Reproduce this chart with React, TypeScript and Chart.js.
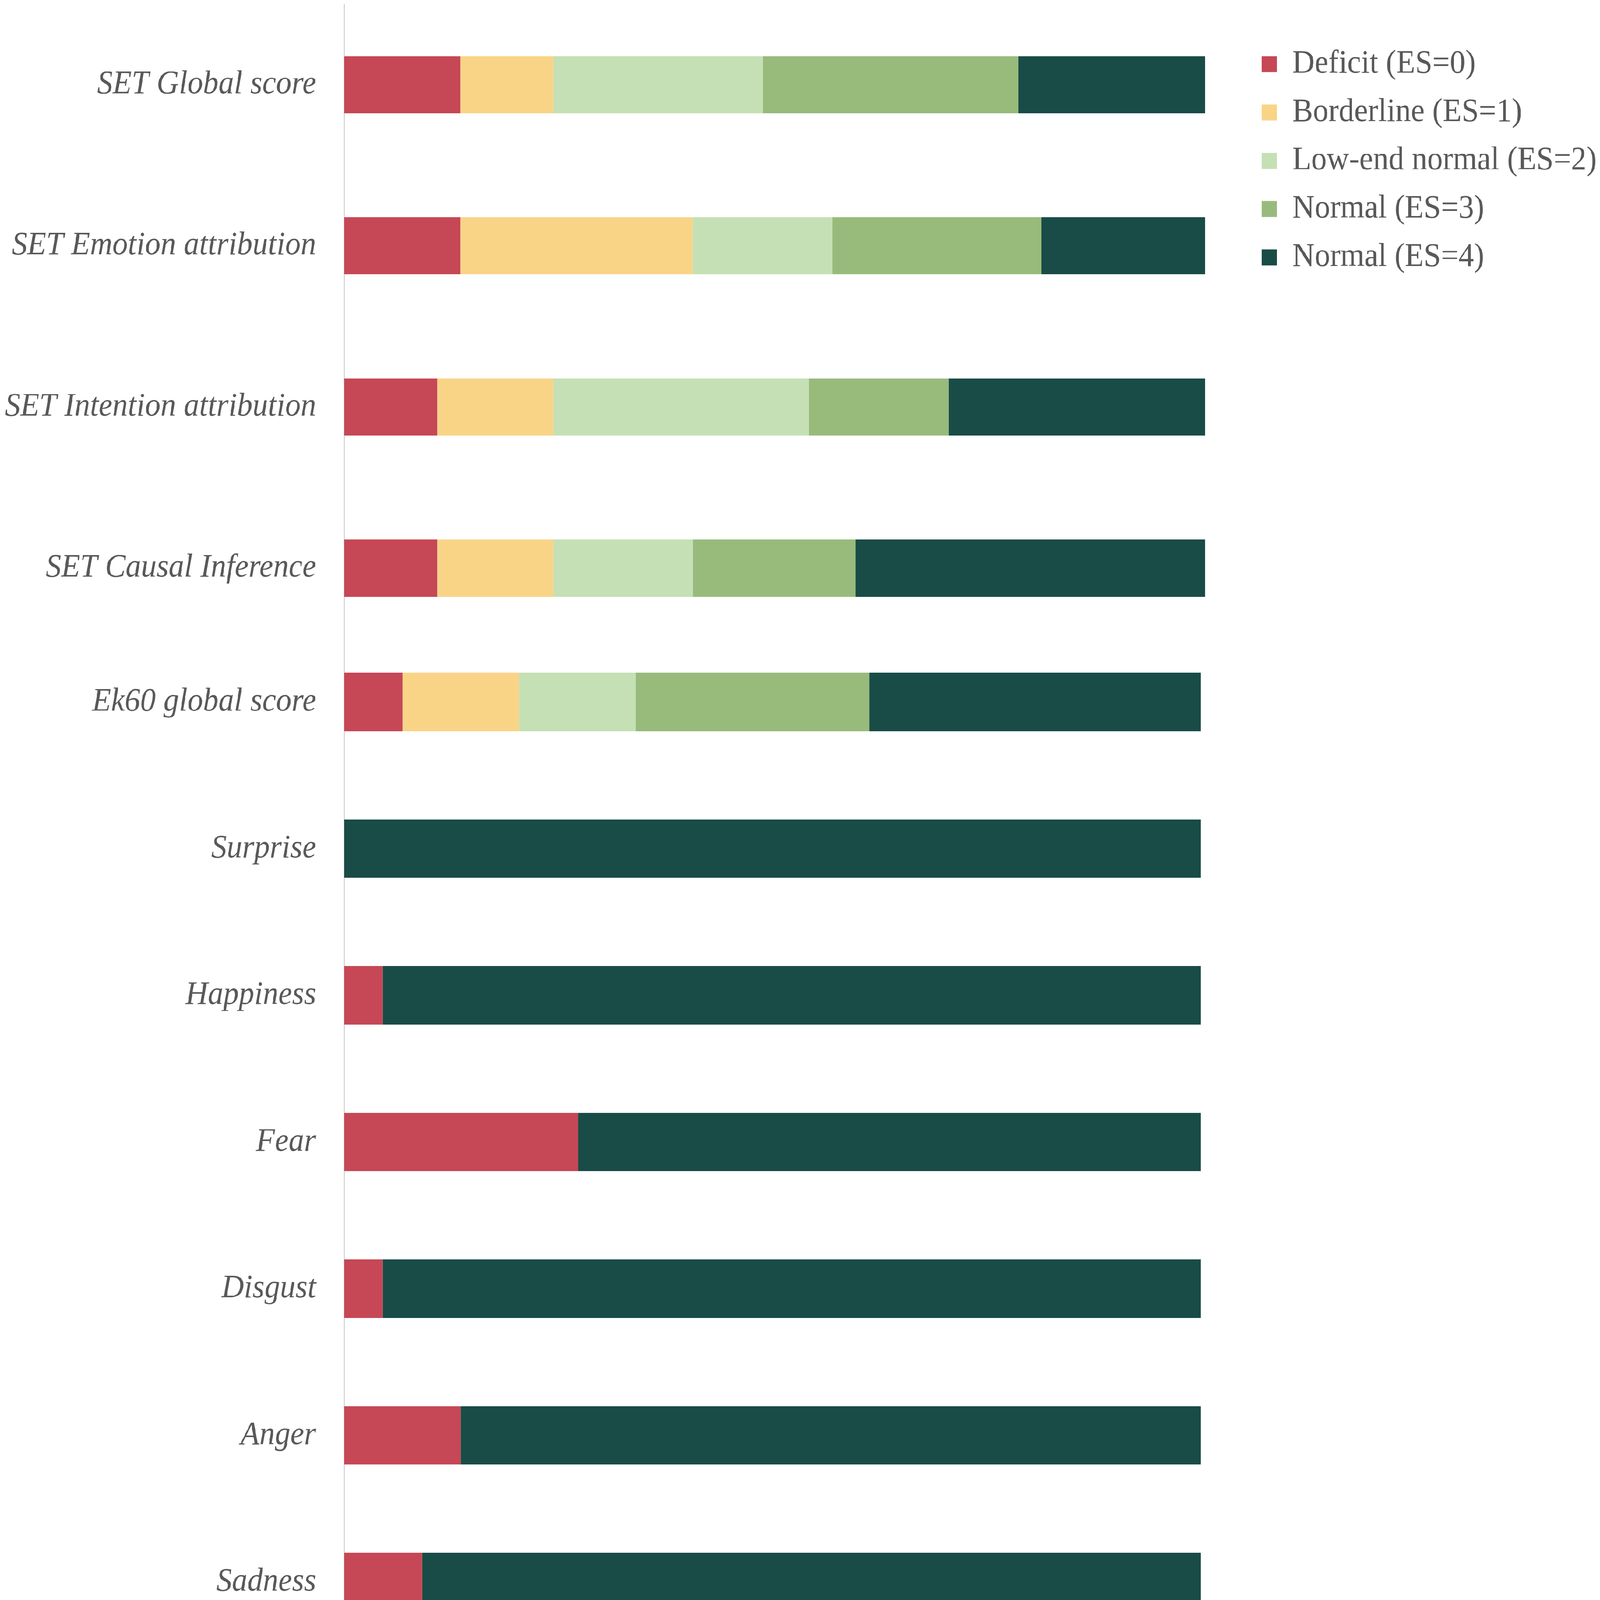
import React, { useEffect, useRef } from "react";
import { Chart, registerables } from "chart.js";

Chart.register(...registerables);

const setLabels = [
  "SET Global score",
  "SET Emotion attribution",
  "SET Intention attribution",
  "SET Causal Inference",
];
const ekLabels = ["Ek60 global score", "Surprise", "Happiness", "Fear", "Disgust", "Anger", "Sadness"];

const seriesNames = [
  "Deficit (ES=0)",
  "Borderline (ES=1)",
  "Low-end normal (ES=2)",
  "Normal (ES=3)",
  "Normal (ES=4)",
];
const seriesColors = ["#C64756", "#F9D487", "#C5E0B4", "#98BB7C", "#194C47"];

// share of patients (%) in each class
const setDeficit = [13.5, 13.5, 10.8, 10.8];
const setBorderline = [10.8, 27.0, 13.5, 13.5];
const setLowNormal = [24.3, 16.2, 29.7, 16.2];
const setNormal3 = [29.7, 24.3, 16.2, 18.9];
const setNormal4 = [21.7, 19.0, 29.8, 40.6];

const ekDeficit = [6.8, 0, 4.5, 27.3, 4.5, 13.6, 9.1];
const ekBorderline = [13.6, 0, 0, 0, 0, 0, 0];
const ekLowNormal = [13.6, 0, 0, 0, 0, 0, 0];
const ekNormal3 = [27.3, 0, 0, 0, 0, 0, 0];
const ekNormal4 = [38.7, 100, 95.5, 72.7, 95.5, 86.4, 90.9];

const TEXT = "#595959";
const FONT = "'Liberation Serif', 'Times New Roman', serif";
const PAGE_W = 4550;
const PAGE_H = 4309;

// legend sits to the right; keep its width fixed and move it where the figure has it
const legendSpot = {
  id: "legendSpot",
  beforeLayout(chart: any, _args: any, opts: any) {
    const lg = chart.legend;
    if (!lg || lg.__fixed || !opts || !opts.width) return;
    const fit = lg.fit;
    lg.fit = function () {
      fit.call(this);
      this.width = opts.width;
    };
    lg.__fixed = true;
  },
  afterLayout(chart: any, _args: any, opts: any) {
    const lg = chart.legend;
    if (!lg || !opts || !opts.width) return;
    lg.left = opts.left;
    lg.right = opts.left + lg.width;
    lg.top = opts.top;
  },
};

interface BarsProps {
  labels: string[];
  series: number[][];
  width: number;
  height: number;
  padTop: number;
  padRight: number;
  barPct: number;
  legend?: boolean;
}

const StackedBars: React.FC<BarsProps> = ({ labels, series, width, height, padTop, padRight, barPct, legend }) => {
  const canvasRef = useRef<HTMLCanvasElement>(null);

  useEffect(() => {
    if (!canvasRef.current) return;
    const chart = new Chart(canvasRef.current, {
      type: "bar",
      data: {
        labels,
        datasets: series.map((values, i) => ({
          label: seriesNames[i],
          data: values,
          backgroundColor: seriesColors[i],
          borderWidth: 0,
          categoryPercentage: 1,
          barPercentage: barPct,
        })),
      },
      options: {
        indexAxis: "y",
        responsive: false,
        animation: false,
        devicePixelRatio: 1,
        layout: { padding: { top: padTop, right: legend ? 0 : padRight, bottom: 0, left: 0 } },
        scales: {
          x: { stacked: true, min: 0, max: 100, display: false },
          y: {
            stacked: true,
            grid: { display: false, drawTicks: false, tickLength: 0 },
            border: { display: true, color: "#D6D6D6", width: 3 },
            ticks: {
              autoSkip: false,
              padding: 80,
              color: TEXT,
              font: { family: FONT, style: "italic", size: 88 },
            },
            afterFit: (scale: any) => {
              scale.width = 979;
              // labels sit on the bars, no extra room needed above/below
              scale.paddingTop = 0;
              scale.paddingBottom = 0;
            },
          },
        },
        plugins: {
          tooltip: { enabled: false },
          legend: {
            display: !!legend,
            position: "right",
            align: "start",
            labels: {
              boxWidth: 43,
              boxHeight: 43,
              padding: 42,
              color: TEXT,
              font: { family: FONT, size: 88 },
            },
          },
          legendSpot: legend ? { width: 1123, left: 3546, top: 87 } : {},
        } as any,
      },
      plugins: [legendSpot],
    });
    return () => {
      chart.destroy();
    };
  }, []);

  return <canvas ref={canvasRef} width={width} height={height} style={{ display: "block", width, height }} />;
};

export default function App() {
  // the figure is laid out at its own size, then fitted to the window
  const sx = window.innerWidth / PAGE_W;
  const sy = window.innerHeight / PAGE_H;
  return (
    <div
      style={{
        position: "fixed",
        left: 0,
        top: 0,
        width: PAGE_W,
        height: PAGE_H,
        overflow: "hidden",
        background: "#ffffff",
        transform: `scale(${sx}, ${sy})`,
        transformOrigin: "0 0",
      }}
    >
      {/* Ek60 block, bottom row runs off the page as in the figure */}
      <div style={{ position: "absolute", left: 0, top: 1650 }}>
        <StackedBars
          labels={ekLabels}
          series={[ekDeficit, ekBorderline, ekLowNormal, ekNormal3, ekNormal4]}
          width={PAGE_W}
          height={2808}
          padTop={43}
          padRight={1135}
          barPct={0.397}
        />
      </div>
      {/* SET block with the legend */}
      <div style={{ position: "absolute", left: 0, top: 0 }}>
        <StackedBars
          labels={setLabels}
          series={[setDeficit, setBorderline, setLowNormal, setNormal3, setNormal4]}
          width={PAGE_W}
          height={1747}
          padTop={11}
          padRight={0}
          barPct={0.355}
          legend
        />
      </div>
    </div>
  );
}
